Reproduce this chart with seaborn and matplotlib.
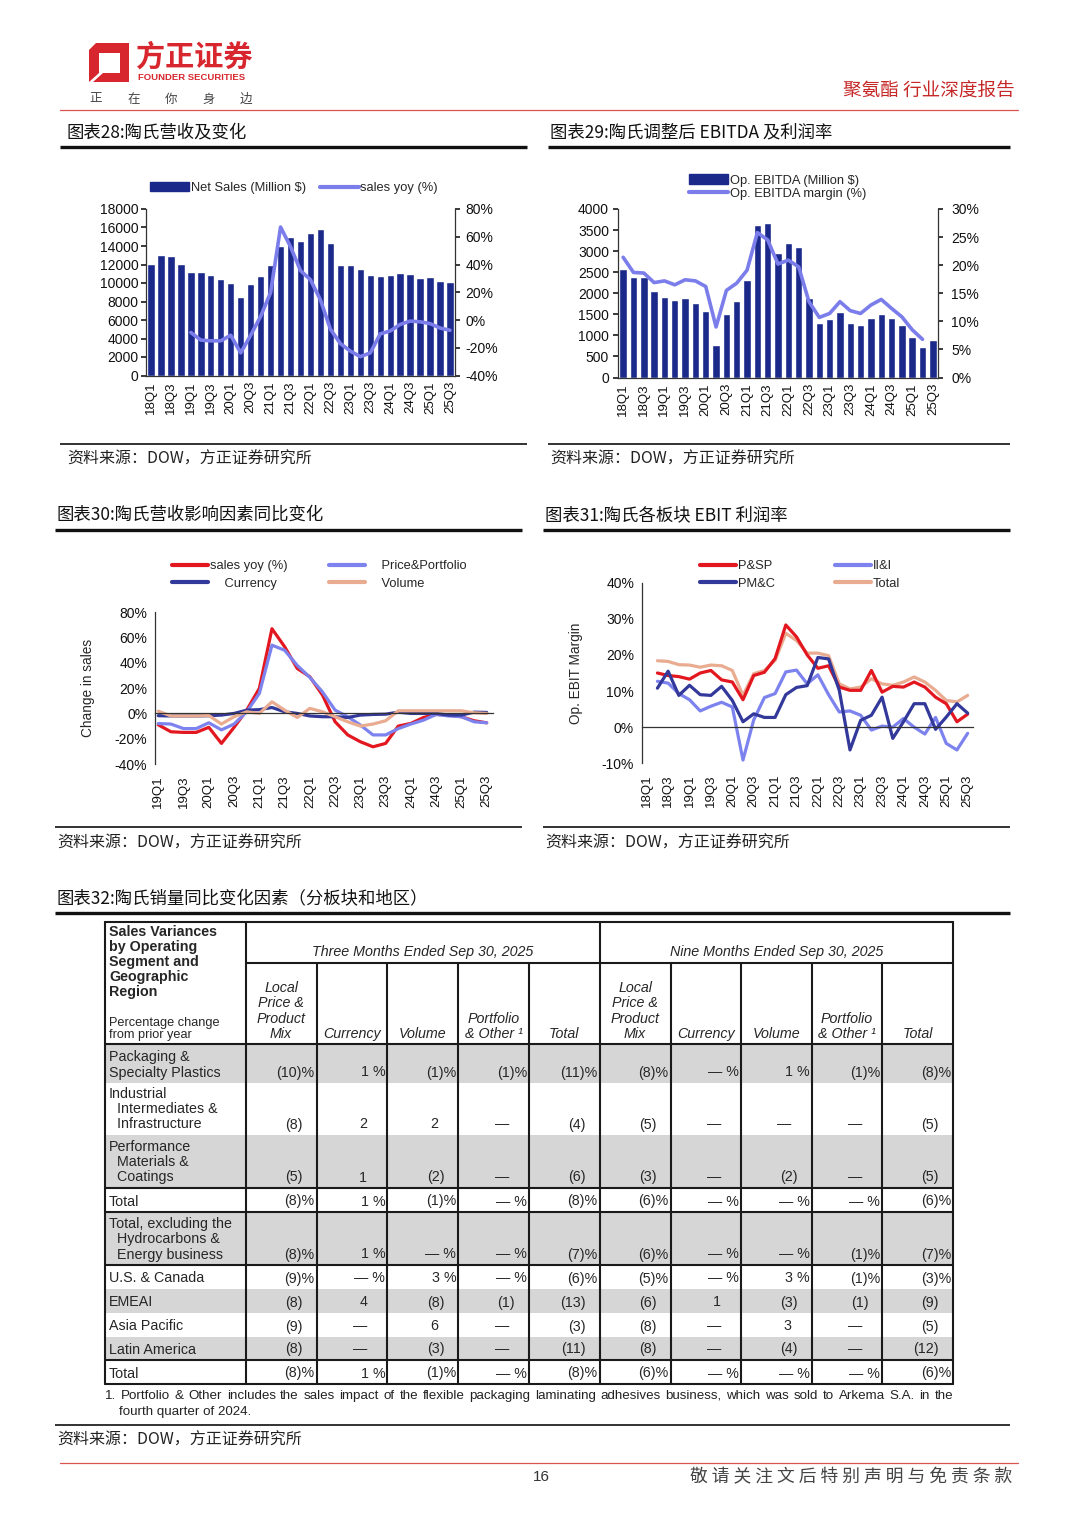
import numpy as np
import pandas as pd
import matplotlib
matplotlib.use("Agg")
import matplotlib.pyplot as plt
import seaborn as sns
from matplotlib.patches import Rectangle, Polygon, Patch
from matplotlib.lines import Line2D
from matplotlib.ticker import FuncFormatter

# ---------------- DATA ----------------
quarters_18 = ["18Q1", "18Q2", "18Q3", "18Q4", "19Q1", "19Q2", "19Q3", "19Q4",
               "20Q1", "20Q2", "20Q3", "20Q4", "21Q1", "21Q2", "21Q3", "21Q4",
               "22Q1", "22Q2", "22Q3", "22Q4", "23Q1", "23Q2", "23Q3", "23Q4",
               "24Q1", "24Q2", "24Q3", "24Q4", "25Q1", "25Q2", "25Q3"]
quarters_19 = quarters_18[4:]

net_sales = [12100, 13000, 12900, 12100, 11150, 11200, 10900, 10400, 9950, 8500,
             9900, 10800, 12000, 14000, 14950, 14500, 15450, 15850, 14300, 12000,
             12000, 11550, 10850, 10800, 10900, 11100, 10950, 10550, 10650, 10250, 10150]
# sales yoy (%) from 19Q1
sales_yoy = [-9, -14.5, -15, -15, -11, -23.7, -11, 2.6, 19.8, 67, 52.8, 35.6, 29, 14.5,
             -6.6, -17, -22.4, -26.4, -23.7, -10, -7.9, -3.2, -0.8, -1.3, -2.6, -5.8, -7.4]

op_ebitda = [2577, 2395, 2380, 2047, 1921, 1834, 1881, 1779, 1581, 783, 1502, 1810,
             2308, 3628, 3668, 2964, 3202, 3107, 1897, 1289, 1383, 1557, 1304, 1241,
             1423, 1518, 1407, 1241, 972, 727, 885]
ebitda_margin = [21.4, 18.7, 18.6, 16.9, 17.2, 16.5, 17.4, 17.2, 16.2, 9.0, 15.5, 16.8,
                 19.1, 25.8, 24.5, 20.2, 20.9, 19.7, 13.5, 10.7, 11.4, 13.5, 11.9, 11.4,
                 12.9, 13.9, 12.3, 10.8, 8.5, 6.8, np.nan]

# chart 30 (19Q1 - 25Q3), %
price_portfolio = [-8, -8.4, -12, -12, -7.4, -13, -8.4, 1.3, 15.8, 54, 50, 38, 28.5, 17,
                   2.6, -2.6, -9.2, -17, -17, -12, -8.4, -5.3, -0.8, -2, -2.6, -6.6, -7.4]
currency = [-1.8, -2, -2, -2, -1.8, -1.3, 0, 2.6, 3, 4.7, 1.3, 0, -2, -2.6, -2.6, -3.2,
            -1.3, -0.8, -0.6, 1, 0, 0, 0, -1.3, -1.3, 1, 0.8]
volume = [1.8, -2, -2, -2, -1.6, -8.4, -2.6, 1.3, 0, 9.2, 2.6, -3.2, 4, 1.3, -2.6, -6.6,
          -10, -8.4, -5.8, 2.1, 2.1, 2.1, 2.1, 2.1, 2.1, 0.5, 0]

# chart 31 (18Q1 - 25Q3), op. EBIT margin %
psp = [np.nan, 15, 14.3, 14, 13.3, 15, 15.7, 13.1, 12.5, 7.6, 14.3, 15.2, 19, 28.3, 25, 20,
       16.3, 17, 11.1, 10.2, 10.2, 15.7, 9.7, 11.3, 11.1, 12.5, 11.1, 8.3, 6.5, 1.5, 3.6]
iii = [np.nan, 12.7, 12.2, 9.3, 7.6, 4.5, 5.8, 6.9, 5.6, -9.1, 2, 8.2, 9.3, 15.3, 15.8, 12,
       14.5, 9, 4.2, 4.5, 3.3, -0.8, 0.3, 0, 2.4, 0, -1.9, 2.7, -4.5, -6.3, -1.7]
pmc = [np.nan, 10.8, 15.5, 8.8, 11.6, 9, 8.8, 11.3, 7.4, 1.5, 3.7, 2.7, 2.7, 9, 11, 11.5,
       19.3, 18.9, 10.2, -6.3, 1.9, 3.3, 8.3, -3.1, 1.5, 6.5, 6.5, -0.6, 2.8, 6.5, 3.9]
total_margin = [np.nan, 18.4, 18.2, 17.3, 17.2, 16.6, 17.2, 17, 15.7, 8.8, 14.8, 15.7, 18.5,
                26, 24, 20.5, 20.5, 19.8, 12, 10.6, 11.1, 13.4, 12, 11.6, 12.5, 13.9,
                12.5, 10.2, 7.4, 7, 8.8]

# table 32
table_rows = ["Packaging &\nSpecialty Plastics",
              "Industrial\n  Intermediates &\n  Infrastructure",
              "Performance\n  Materials &\n  Coatings",
              "Total",
              "Total, excluding the\n  Hydrocarbons &\n  Energy business",
              "U.S. & Canada", "EMEAI", "Asia Pacific", "Latin America", "Total"]
table_cols = ["Local\nPrice &\nProduct\nMix", "Currency", "Volume", "Portfolio\n& Other \u00b9", "Total"]
three_months = [["(10)%", "1 %", "(1)%", "(1)%", "(11)%"],
                ["(8)", "2", "2", "\u2014", "(4)"],
                ["(5)", "1", "(2)", "\u2014", "(6)"],
                ["(8)%", "1 %", "(1)%", "\u2014 %", "(8)%"],
                ["(8)%", "1 %", "\u2014 %", "\u2014 %", "(7)%"],
                ["(9)%", "\u2014 %", "3 %", "\u2014 %", "(6)%"],
                ["(8)", "4", "(8)", "(1)", "(13)"],
                ["(9)", "\u2014", "6", "\u2014", "(3)"],
                ["(8)", "\u2014", "(3)", "\u2014", "(11)"],
                ["(8)%", "1 %", "(1)%", "\u2014 %", "(8)%"]]
nine_months = [["(8)%", "\u2014 %", "1 %", "(1)%", "(8)%"],
               ["(5)", "\u2014", "\u2014", "\u2014", "(5)"],
               ["(3)", "\u2014", "(2)", "\u2014", "(5)"],
               ["(6)%", "\u2014 %", "\u2014 %", "\u2014 %", "(6)%"],
               ["(6)%", "\u2014 %", "\u2014 %", "(1)%", "(7)%"],
               ["(5)%", "\u2014 %", "3 %", "(1)%", "(3)%"],
               ["(6)", "1", "(3)", "(1)", "(9)"],
               ["(8)", "\u2014", "3", "\u2014", "(5)"],
               ["(8)", "\u2014", "(4)", "\u2014", "(12)"],
               ["(6)%", "\u2014 %", "\u2014 %", "\u2014 %", "(6)%"]]
shaded_rows = [True, False, True, False, True, False, True, False, True, False]
footnote = ("1. Portfolio & Other includes the sales impact of the flexible packaging laminating "
            "adhesives business, which was sold to Arkema S.A. in the")
footnote2 = "fourth quarter of 2024."

# ---------------- STYLE ----------------
sns.set_theme(style="white")
plt.rcParams['font.family'] = ['Liberation Sans', 'Noto Sans CJK SC', 'DejaVu Sans']
plt.rcParams['axes.edgecolor'] = '#333333'
plt.rcParams['axes.linewidth'] = 0.9
plt.rcParams['xtick.color'] = '#222222'
plt.rcParams['ytick.color'] = '#222222'
plt.rcParams['xtick.labelcolor'] = '#111111'
plt.rcParams['ytick.labelcolor'] = '#111111'
CJK = ['Noto Sans CJK SC', 'DejaVu Sans']

NAVY_BAR = "#1B2A8A"
LINE_LB = "#7B7DEB"
RED = "#E3171F"
LIGHT = "#7D83EE"
NAVY = "#33399A"
SALMON = "#E9AC91"

W, H = 1080, 1527
fig = plt.figure(figsize=(W / 100, H / 100), dpi=100)
page = fig.add_axes([0, 0, 1, 1])
page.set_xlim(0, W)
page.set_ylim(H, 0)
page.axis('off')


def rect(l, t, r, b):
    return [l / W, 1 - b / H, (r - l) / W, (b - t) / H]


pct = FuncFormatter(lambda v, p: f"{v:.0f}%")

# ---------------- HEADER ----------------
page.add_patch(Polygon([(96, 43), (129, 43), (129, 82), (89, 82), (89, 50)], closed=True,
                       color="#D7262E", lw=0))
page.add_patch(Polygon([(99, 53), (120, 53), (120, 73), (99, 73)], closed=True, color="white", lw=0))
page.add_patch(Polygon([(89, 82), (99, 73), (103, 73), (93, 82)], closed=True, color="white", lw=0))
page.text(136, 57, "方正证券", family=CJK, fontsize=21, fontweight='bold', color="#D7262E",
          va='center', ha='left')
page.text(138, 77.5, "FOUNDER SECURITIES", fontsize=6.8, fontweight='bold', color="#D7262E",
          va='center', ha='left')
for ch, xx in zip("正在你身边", np.linspace(96, 246, 5)):
    page.text(xx, 99, ch, family=CJK, fontsize=9, color="#444444", va='center', ha='center')
page.text(1015, 92, "聚氨酯 行业深度报告", family=CJK, fontsize=13.4, color="#C62828",
          va='center', ha='right')
page.plot([60, 1018], [110, 110], color="#D9534F", lw=0.9)

# ---------------- TITLES / RULES / SOURCES ----------------
titles = [(67, 132, "图表28:陶氏营收及变化"), (550, 132, "图表29:陶氏调整后 EBITDA 及利润率"),
          (57, 515, "图表30:陶氏营收影响因素同比变化"), (545, 515, "图表31:陶氏各板块 EBIT 利润率"),
          (57, 899, "图表32:陶氏销量同比变化因素（分板块和地区）")]
for x, y, t in titles:
    page.text(x, y, t, family=CJK, fontsize=12.5, color="#111111", va='center', ha='left')
for x0, x1, y in [(60, 527, 147), (548, 1010, 147), (55, 522, 530), (543, 1010, 530), (55, 1010, 913)]:
    page.plot([x0, x1], [y, y], color="#111111", lw=2.4, solid_capstyle='butt')
for x0, x1, y in [(60, 527, 444), (548, 1010, 444), (55, 522, 827), (543, 1010, 827), (55, 1010, 1425)]:
    page.plot([x0, x1], [y, y], color="#222222", lw=1.3, solid_capstyle='butt')
for x, y in [(67, 459), (550, 459), (57, 843), (545, 843), (57, 1440)]:
    page.text(x, y, "资料来源：DOW，方正证券研究所", family=CJK, fontsize=11.5, color="#222222",
              va='center', ha='left')

# ---------------- CHART 28 ----------------
n31 = len(quarters_18)
idx31 = np.arange(n31)
ax28 = fig.add_axes(rect(146, 209, 455, 375.5))
df28 = pd.DataFrame({"q": quarters_18, "v": net_sales})
sns.barplot(data=df28, x="q", y="v", color=NAVY_BAR, saturation=1, width=0.74, ax=ax28)
ax28r = ax28.twinx()
yoy_idx = idx31[4:]
sns.lineplot(x=yoy_idx, y=sales_yoy, ax=ax28r, color=LINE_LB, linewidth=2.6, legend=False)
ax28.set_xlim(-0.5, n31 - 0.5)
ax28.set_ylim(0, 18000)
ax28.set_yticks(np.arange(0, 18001, 2000))
ax28.set_xticks(idx31[::2])
ax28.set_xticklabels(quarters_18[::2], rotation=90)
ax28r.set_ylim(-40, 80)
ax28r.set_yticks(np.arange(-40, 81, 20))
ax28r.yaxis.set_major_formatter(pct)
for a in (ax28, ax28r):
    a.set_xlabel(""); a.set_ylabel("")
    a.spines['top'].set_visible(False)
ax28.spines['right'].set_visible(False)
ax28r.spines['left'].set_visible(False)
ax28r.spines['bottom'].set_visible(False)
ax28.tick_params(axis='y', direction='out', length=3.5, labelsize=10, pad=2)
ax28.tick_params(axis='x', length=0, labelsize=9.5, pad=4)
ax28r.tick_params(axis='y', direction='out', length=3.5, labelsize=10, pad=4)
fig.legend(handles=[Patch(color=NAVY_BAR, label="Net Sales (Million $)"),
                    Line2D([], [], color=LINE_LB, lw=3, label="sales yoy (%)")],
           loc='center', bbox_to_anchor=(294 / W, 1 - 188 / H), ncol=2, frameon=False,
           fontsize=9.3, handlelength=3.0, handletextpad=0.1, columnspacing=1.1,
           borderpad=0, handleheight=0.75)

# ---------------- CHART 29 ----------------
ax29 = fig.add_axes(rect(618, 209, 938, 377.5))
df29 = pd.DataFrame({"q": quarters_18, "v": op_ebitda})
sns.barplot(data=df29, x="q", y="v", color=NAVY_BAR, saturation=1, width=0.72, ax=ax29)
ax29r = ax29.twinx()
m = ~np.isnan(np.array(ebitda_margin, dtype=float))
sns.lineplot(x=idx31[m], y=np.array(ebitda_margin)[m], ax=ax29r, color=LINE_LB,
             linewidth=2.6, legend=False)
ax29.set_xlim(-0.5, n31 - 0.5)
ax29.set_ylim(0, 4000)
ax29.set_yticks(np.arange(0, 4001, 500))
ax29.set_xticks(idx31[::2])
ax29.set_xticklabels(quarters_18[::2], rotation=90)
ax29r.set_ylim(0, 30)
ax29r.set_yticks(np.arange(0, 31, 5))
ax29r.yaxis.set_major_formatter(pct)
for a in (ax29, ax29r):
    a.set_xlabel(""); a.set_ylabel("")
    a.spines['top'].set_visible(False)
ax29.spines['right'].set_visible(False)
ax29r.spines['left'].set_visible(False)
ax29r.spines['bottom'].set_visible(False)
ax29.tick_params(axis='y', direction='out', length=3.5, labelsize=10, pad=3)
ax29.tick_params(axis='x', length=0, labelsize=9.5, pad=4)
ax29r.tick_params(axis='y', direction='out', length=3.5, labelsize=10, pad=6)
fig.legend(handles=[Patch(color=NAVY_BAR, label="Op. EBITDA (Million $)"),
                    Line2D([], [], color=LINE_LB, lw=3, label="Op. EBITDA margin (%)")],
           loc='center left', bbox_to_anchor=(683 / W, 1 - 187 / H), ncol=1, frameon=False,
           fontsize=9.3, handlelength=3.0, handletextpad=0.1, labelspacing=0.05,
           borderpad=0, handleheight=0.75)

# ---------------- CHART 30 ----------------
n27 = len(quarters_19)
idx27 = np.arange(n27)
ax30 = fig.add_axes(rect(155, 612.3, 493, 764))
series30 = [("sales yoy (%)", sales_yoy, RED), ("Price&Portfolio", price_portfolio, LIGHT),
            ("Currency", currency, NAVY), ("Volume", volume, SALMON)]
for name, vals, col in series30:
    sns.lineplot(x=idx27, y=vals, ax=ax30, color=col, linewidth=2.3, legend=False)
ax30.set_xlim(-0.26, n27 - 1 + 0.33)
ax30.set_ylim(-40, 80)
ax30.set_yticks(np.arange(-40, 81, 20))
ax30.yaxis.set_major_formatter(pct)
ax30.spines['top'].set_visible(False)
ax30.spines['right'].set_visible(False)
ax30.spines['bottom'].set_position(('data', 0))
ax30.set_xticks(np.arange(0.5, n27 - 0.4, 1.0))
ax30.tick_params(axis='x', direction='in', length=4, labelbottom=False)
ax30.tick_params(axis='y', direction='out', length=3.5, labelsize=10, pad=2)
sec30 = ax30.secondary_xaxis(0.0)
sec30.set_xticks(idx27[::2], labels=quarters_19[::2], rotation=90)
sec30.tick_params(length=0, labelsize=9.5, pad=8)
sec30.spines['bottom'].set_visible(False)
ax30.set_xlabel("")
ax30.set_ylabel("Change in sales", fontsize=9.8)
ax30.yaxis.set_label_coords(-0.178, 0.5)
h30 = {n: Line2D([], [], color=c, lw=3) for n, _, c in series30}
fig.legend(handles=[h30["sales yoy (%)"], h30["Currency"], h30["Price&Portfolio"], h30["Volume"]],
           labels=["sales yoy (%)", "    Currency", "    Price&Portfolio", "    Volume"],
           loc='upper left', bbox_to_anchor=(172 / W, 1 - 560 / H), ncol=2, frameon=False,
           fontsize=9.3, handlelength=2.8, handletextpad=0.15, columnspacing=3.2,
           labelspacing=0.45, borderpad=0, borderaxespad=0)

# ---------------- CHART 31 ----------------
ax31 = fig.add_axes(rect(641.7, 582.7, 973, 763.3))
series31 = [("Total", total_margin, SALMON), ("P&SP", psp, RED), ("II&I", iii, LIGHT),
            ("PM&C", pmc, NAVY)]
for name, vals, col in series31:
    v = np.array(vals, dtype=float)
    mk = ~np.isnan(v)
    sns.lineplot(x=idx31[mk], y=v[mk], ax=ax31, color=col, linewidth=2.3, legend=False)
ax31.set_xlim(-0.47, n31 - 1 + 0.47)
ax31.set_ylim(-10, 40)
ax31.set_yticks(np.arange(-10, 41, 10))
ax31.yaxis.set_major_formatter(pct)
ax31.spines['top'].set_visible(False)
ax31.spines['right'].set_visible(False)
ax31.spines['bottom'].set_position(('data', 0))
ax31.set_xticks(np.arange(0.5, n31 - 0.4, 1.0))
ax31.tick_params(axis='x', direction='in', length=4, labelbottom=False)
ax31.tick_params(axis='y', direction='out', length=3.5, labelsize=10, pad=2)
sec31 = ax31.secondary_xaxis(0.0)
sec31.set_xticks(idx31[::2], labels=quarters_18[::2], rotation=90)
sec31.tick_params(length=0, labelsize=9.5, pad=8)
sec31.spines['bottom'].set_visible(False)
ax31.set_xlabel("")
ax31.set_ylabel("Op. EBIT Margin", fontsize=9.8)
ax31.yaxis.set_label_coords(-0.177, 0.5)
h31 = {n: Line2D([], [], color=c, lw=3) for n, _, c in series31}
fig.legend(handles=[h31["P&SP"], h31["PM&C"], h31["II&I"], h31["Total"]],
           labels=["P&SP", "PM&C", "II&I", "Total"],
           loc='upper left', bbox_to_anchor=(700 / W, 1 - 560 / H), ncol=2, frameon=False,
           fontsize=9.3, handlelength=2.8, handletextpad=0.15, columnspacing=4.6,
           labelspacing=0.45, borderpad=0, borderaxespad=0)

# ---------------- TABLE 32 ----------------
col_edges = [105, 245.5, 316.7, 387.3, 458.3, 529, 599.5, 670.7, 741, 811.7, 882.3, 953]
row_edges = [1044, 1083, 1135, 1188, 1212, 1265, 1289, 1313, 1337, 1360, 1384]
TL = 922
HM = 963
LC = "#1a1a1a"
for i, sh in enumerate(shaded_rows):
    if sh:
        page.add_patch(Rectangle((col_edges[0], row_edges[i]), col_edges[-1] - col_edges[0],
                                 row_edges[i + 1] - row_edges[i], color="#D6D6D6", lw=0, zorder=1))
# rules
for y in [TL, row_edges[0], 1188, 1212, 1265, 1360, row_edges[-1]]:
    page.plot([col_edges[0], col_edges[-1]], [y, y], color=LC, lw=1.5, zorder=3)
page.plot([col_edges[1], col_edges[-1]], [HM, HM], color=LC, lw=1.5, zorder=3)
for j, x in enumerate(col_edges):
    top = TL if j in (0, 1, 6, len(col_edges) - 1) else HM
    page.plot([x, x], [top, row_edges[-1]], color=LC, lw=1.5, zorder=3)

FS = 10.3
LS = 1.13
page.text(109, 925, "Sales Variances\nby Operating\nSegment and\nGeographic\nRegion",
          fontsize=10.3, fontweight='bold', va='top', ha='left', linespacing=1.1, zorder=4)
page.text(109, 1041, "Percentage change\nfrom prior year", fontsize=9.2, va='bottom', ha='left',
          linespacing=1.05, zorder=4)
page.text((col_edges[1] + col_edges[6]) / 2, 952, "Three Months Ended Sep 30, 2025",
          fontsize=FS, style='italic', va='center', ha='center', zorder=4)
page.text((col_edges[6] + col_edges[11]) / 2, 952, "Nine Months Ended Sep 30, 2025",
          fontsize=FS, style='italic', va='center', ha='center', zorder=4)
for block in range(2):
    for k, c in enumerate(table_cols):
        x0 = col_edges[1 + block * 5 + k]
        x1 = col_edges[2 + block * 5 + k]
        page.text((x0 + x1) / 2, 1041, c, fontsize=FS, style='italic', va='bottom',
                  ha='center', multialignment='center', linespacing=LS, zorder=4)


def val_x(right, s):
    if s.endswith('%'):
        return right - 2
    if s.endswith(')'):
        return right - 14
    return right - 20


for i, lab in enumerate(table_rows):
    yb = row_edges[i + 1] - 3.5
    page.text(109, yb, lab, fontsize=FS, va='bottom', ha='left', linespacing=LS, zorder=4)
    for block, data in enumerate([three_months, nine_months]):
        for k, s in enumerate(data[i]):
            right = col_edges[2 + block * 5 + k]
            page.text(val_x(right, s), yb, s, fontsize=FS, va='bottom', ha='right', zorder=4)

# justified footnote
fn_words = footnote.split(' ')
fn_objs = [page.text(0, 1396, w, fontsize=9.6, va='center', ha='left', color="#222222") for w in fn_words]
rend = fig.canvas.get_renderer()
fn_w = [o.get_window_extent(rend).width for o in fn_objs]
gap = (953 - 105 - sum(fn_w)) / (len(fn_words) - 1)
cx = 105
for o, wd in zip(fn_objs, fn_w):
    o.set_x(cx)
    cx += wd + gap
page.text(119, 1412, footnote2, fontsize=9.6, va='center', ha='left', color="#222222")

# ---------------- FOOTER ----------------
page.plot([60, 1018], [1463, 1463], color="#D9534F", lw=0.9)
page.text(541, 1477, "16", fontsize=11, color="#333333", va='center', ha='center')
page.text(1012, 1477, " ".join("敬请关注文后特别声明与免责条款"), family=CJK, fontsize=12.8,
          color="#444444", va='center', ha='right')

fig.savefig("out.png", dpi=100)
